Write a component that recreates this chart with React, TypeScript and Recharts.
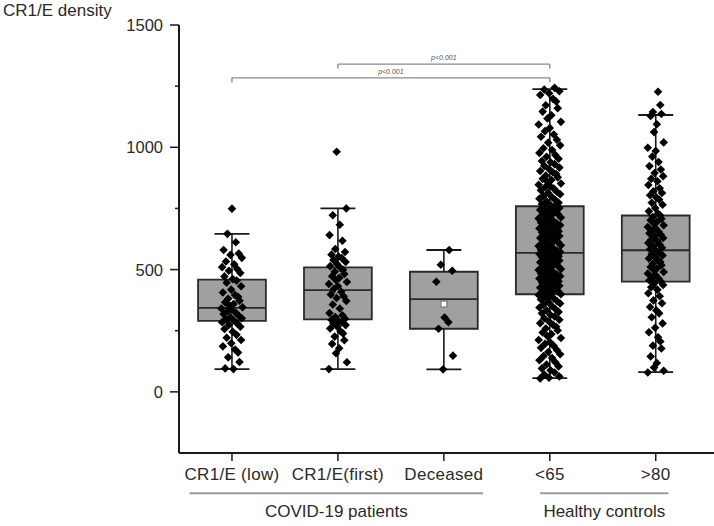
import {
  ComposedChart,
  Scatter,
  XAxis,
  YAxis,
  ReferenceArea,
  ReferenceLine,
  ReferenceDot,
} from "recharts";

const CATEGORIES = ["CR1/E (low)", "CR1/E(first)", "Deceased", "<65", ">80"];

// individual measurements per group
const LOW = [749, 646, 612, 580, 566, 560, 548, 533, 522, 510, 502, 495, 486, 472, 461, 455, 446, 432, 418, 406, 396, 389, 381, 373, 366, 359, 352, 346, 341, 336, 329, 323, 318, 311, 305, 301, 296, 291, 285, 279, 274, 266, 257, 246, 233, 221, 212, 199, 186, 173, 161, 141, 122, 96, 93];
const FIRST = [982, 750, 722, 683, 641, 618, 584, 572, 561, 553, 547, 539, 531, 522, 514, 506, 499, 491, 482, 473, 466, 457, 449, 441, 432, 421, 409, 398, 391, 384, 372, 357, 341, 322, 313, 306, 299, 294, 289, 284, 279, 273, 266, 259, 248, 239, 226, 211, 196, 178, 158, 121, 93];
const DECEASED = [580, 520, 495, 450, 304, 285, 258, 148, 92];
const UNDER65 = [1243, 1236, 1229, 1221, 1214, 1198, 1187, 1172, 1160, 1146, 1131, 1118, 1104, 1093, 1079, 1066, 1052, 1043, 1031, 1019, 1008, 996, 989, 977, 968, 961, 953, 944, 939, 931, 924, 917, 911, 903, 897, 891, 884, 877, 871, 866, 859, 852, 847, 843, 836, 831, 824, 818, 813, 808, 801, 796, 790, 784, 779, 773, 768, 764,
  759, 756, 752, 748, 744, 741, 737, 733, 728, 725, 721, 716, 713, 709, 704, 701, 697, 692, 688, 685, 681, 676, 672, 668, 664, 660, 657, 652, 648, 645, 641, 637, 633, 629, 626, 622, 618, 614, 610, 606, 603, 599, 596, 592, 588, 585, 581, 578, 575, 572, 570,
  567, 564, 561, 557, 554, 551, 547, 544, 540, 537, 533, 530, 526, 523, 519, 516, 512, 509, 505, 502, 498, 495, 491, 488, 484, 480, 477, 473, 470, 466, 463, 459, 456, 452, 448, 445, 441, 437, 434, 430, 426, 423, 419, 415, 412, 408, 405, 402, 399,
  396, 391, 387, 382, 378, 372, 367, 361, 356, 350, 345, 339, 333, 327, 321, 314, 308, 301, 295, 288, 281, 274, 266, 259, 251, 243, 236, 228, 220, 212, 204, 196, 188, 180, 171, 163, 154, 146, 138, 129, 121, 112, 104, 96, 88, 79, 71, 63, 58, 55];
const OVER80 = [1227, 1173, 1144, 1136, 1128, 1094, 1062, 1020, 998, 985, 962, 940, 923, 909, 895, 882, 871, 861, 846, 832, 820, 813, 804, 795, 786, 773, 765, 752, 738, 729, 721, 715, 708, 702, 695, 688, 681, 674, 668, 661, 655, 648, 642, 636, 629, 622, 616, 609, 602, 596, 589, 583, 577, 570, 564, 558, 551, 545, 538, 531, 524, 518, 511, 504, 497, 490, 484, 477, 470, 463, 456, 451, 445, 437, 428, 418, 403, 391, 374, 362, 347, 333, 321, 305, 280, 262, 244, 223, 206, 189, 177, 145, 118, 100, 86, 79];

const SERIES = [LOW, FIRST, DECEASED, UNDER65, OVER80];

// box statistics
const Q1 = [290, 296, 258, 399, 451];
const MEDIAN = [343, 416, 379, 568, 579];
const Q3 = [459, 509, 491, 759, 721];
const WHISKER_LO = [93, 93, 92, 56, 81];
const WHISKER_HI = [646, 750, 580, 1238, 1132];
const MEANS = [371, 418, 359, 582, 588];

// horizontal jitter pattern (fraction of max spread) and spread per group (category units)
const JITTER = [0, -0.43, 0.36, -0.79, 0.64, -0.14, 0.93, -0.57, 0.21, -0.93, 0.5, -0.29, 0.79, -0.71, 0.07, 0.43, -0.5, 0.86, -0.07, -0.86, 0.29, 0.57, -0.36, 0.71, -0.64, 0.14, -0.21, 1, -1];
const SPREAD = [0.1, 0.085, 0.1, 0.105, 0.075];

const BRACKETS = [
  { from: 1, to: 3, y: 1340, label: "p<0.001" },
  { from: 0, to: 3, y: 1284, label: "p<0.001" },
];

const GROUPS = [
  { label: "COVID-19 patients", from: -0.4, to: 2.37 },
  { label: "Healthy controls", from: 2.91, to: 4.12 },
];

const FONT = "'Liberation Sans', Arial, sans-serif";
const INK = "#1a1a1a";

const points = SERIES.flatMap((vals, i) =>
  vals.map((v, j) => ({ x: i + SPREAD[i] * JITTER[(j + i * 5) % JITTER.length], y: v }))
);
const means = MEANS.map((m, i) => ({ x: i, y: m }));

const Diamond = (props: any) => {
  const { cx, cy } = props;
  const r = 4.3;
  return (
    <polygon
      points={`${cx},${cy - r} ${cx + r},${cy} ${cx},${cy + r} ${cx - r},${cy}`}
      fill="#000"
    />
  );
};

const MeanSquare = (props: any) => {
  const { cx, cy } = props;
  return <rect x={cx - 3} y={cy - 3} width={6} height={6} fill="#fff" stroke="#777" strokeWidth={1.2} />;
};

const YTick = (props: any) => {
  const { x, y, payload } = props;
  const major = payload.value % 500 === 0;
  return (
    <g>
      <line x1={x - (major ? 9 : 4)} x2={x} y1={y} y2={y} stroke={INK} strokeWidth={1.5} />
      {major && (
        <text x={x - 16} y={y} dy={6} textAnchor="end" fontSize={16.5} fill="#2a2a2a" fontFamily={FONT}>
          {payload.value}
        </text>
      )}
    </g>
  );
};

export default function App() {
  const half = 0.32;
  const cap = 0.165;
  return (
    <div style={{ position: "absolute", left: 0, top: 0, width: 714, height: 526, background: "#fff" }}>
      <ComposedChart width={714} height={526} margin={{ top: 25, right: 0, bottom: 43, left: 0 }}>
        <XAxis
          type="number"
          dataKey="x"
          domain={[-0.5, 4.55]}
          ticks={[0, 1, 2, 3, 4]}
          tickFormatter={(v: number) => CATEGORIES[v] ?? ""}
          interval={0}
          height={30}
          allowDataOverflow
          axisLine={{ stroke: INK, strokeWidth: 2 }}
          tickLine={{ stroke: INK, strokeWidth: 1.5 }}
          tickSize={8}
          tickMargin={7}
          tick={{ fontSize: 17, fill: "#2a2a2a", fontFamily: FONT, letterSpacing: 0.3 }}
        />
        <YAxis
          type="number"
          dataKey="y"
          domain={[-250, 1500]}
          ticks={[0, 250, 500, 750, 1000, 1250, 1500]}
          width={179}
          allowDataOverflow
          axisLine={{ stroke: INK, strokeWidth: 2 }}
          tickLine={false}
          tickSize={0}
          tickMargin={0}
          tick={<YTick />}
          label={() => (
            <text x={3} y={16} fontSize={17} fill="#2a2a2a" fontFamily={FONT}>
              CR1/E density
            </text>
          )}
        />

        {CATEGORIES.map((_, i) => (
          <ReferenceLine key={`wl${i}`} segment={[{ x: i, y: WHISKER_LO[i] }, { x: i, y: Q1[i] }]} stroke={INK} strokeWidth={1.6} />
        ))}
        {CATEGORIES.map((_, i) => (
          <ReferenceLine key={`wh${i}`} segment={[{ x: i, y: Q3[i] }, { x: i, y: WHISKER_HI[i] }]} stroke={INK} strokeWidth={1.6} />
        ))}
        {CATEGORIES.map((_, i) => (
          <ReferenceLine key={`cl${i}`} segment={[{ x: i - cap, y: WHISKER_LO[i] }, { x: i + cap, y: WHISKER_LO[i] }]} stroke={INK} strokeWidth={1.8} />
        ))}
        {CATEGORIES.map((_, i) => (
          <ReferenceLine key={`ch${i}`} segment={[{ x: i - cap, y: WHISKER_HI[i] }, { x: i + cap, y: WHISKER_HI[i] }]} stroke={INK} strokeWidth={1.8} />
        ))}
        {CATEGORIES.map((_, i) => (
          <ReferenceArea key={`box${i}`} x1={i - half} x2={i + half} y1={Q1[i]} y2={Q3[i]} fill="#a0a0a0" fillOpacity={1} stroke="#2a2a2a" strokeWidth={1.8} />
        ))}
        {CATEGORIES.map((_, i) => (
          <ReferenceLine key={`md${i}`} segment={[{ x: i - half, y: MEDIAN[i] }, { x: i + half, y: MEDIAN[i] }]} stroke="#2a2a2a" strokeWidth={1.8} />
        ))}

        {BRACKETS.map((b, k) => (
          <ReferenceLine key={`bl${k}`} segment={[{ x: b.from, y: b.y }, { x: b.to, y: b.y }]} stroke="#8a8a8a" strokeWidth={1.4} />
        ))}
        {BRACKETS.map((b, k) => (
          <ReferenceLine key={`bf${k}`} segment={[{ x: b.from, y: b.y }, { x: b.from, y: b.y - 18 }]} stroke="#8a8a8a" strokeWidth={1.4} />
        ))}
        {BRACKETS.map((b, k) => (
          <ReferenceLine key={`bt${k}`} segment={[{ x: b.to, y: b.y }, { x: b.to, y: b.y - 18 }]} stroke="#8a8a8a" strokeWidth={1.4} />
        ))}
        {BRACKETS.map((b, k) => (
          <ReferenceDot
            key={`bp${k}`}
            x={(b.from + b.to) / 2}
            y={b.y + 26}
            r={0}
            fill="none"
            stroke="none"
            label={{ value: b.label, position: "center", fontSize: 7, fontStyle: "italic", fill: "#555", fontFamily: FONT }}
          />
        ))}

        {GROUPS.map((g, k) => (
          <ReferenceLine
            key={`g${k}`}
            ifOverflow="visible"
            segment={[{ x: g.from, y: -415 }, { x: g.to, y: -415 }]}
            stroke="#9a9a9a"
            strokeWidth={2}
            label={{ value: g.label, position: "bottom", offset: 12, fontSize: 17, fill: "#2a2a2a", fontFamily: FONT }}
          />
        ))}

        <Scatter data={means} shape={<MeanSquare />} isAnimationActive={false} />
        <Scatter data={points} shape={<Diamond />} isAnimationActive={false} />
      </ComposedChart>
    </div>
  );
}
